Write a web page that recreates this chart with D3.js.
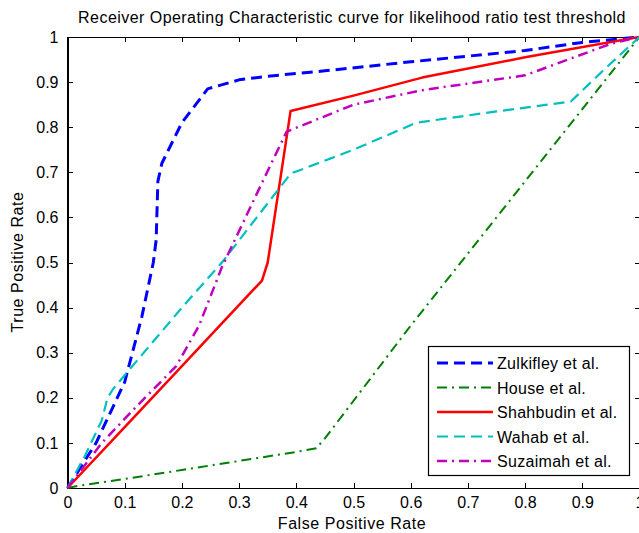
<!DOCTYPE html>
<meta charset="utf-8">
<head>
  <script src="https://cdn.jsdelivr.net/npm/d3@7/dist/d3.min.js"></script>
  <style>
    body { margin: 0; background: #fff; }
    text { font-family: "Liberation Sans", Arial, sans-serif; fill: #000; }
    .axis path, .axis line { fill: none; stroke: #000; shape-rendering: crispEdges; }
  </style>
</head>
<body>
<script type="text/javascript">

// datos
var xTicks = [0, 0.1, 0.2, 0.3, 0.4, 0.5, 0.6, 0.7, 0.8, 0.9, 1];
var yTicks = [0, 0.1, 0.2, 0.3, 0.4, 0.5, 0.6, 0.7, 0.8, 0.9, 1];

var nombres = ["Zulkifley et al.", "House et al.", "Shahbudin et al.", "Wahab et al.", "Suzaimah et al."];
var colores = ["#0000ff", "#007f00", "#ff0000", "#00bfbf", "#bf00bf"];

var zulkifley = [[0,0],[0.05,0.1],[0.1,0.235],[0.13,0.38],[0.15,0.5],[0.155,0.55],[0.158,0.68],[0.165,0.72],[0.2,0.81],[0.245,0.885],[0.3,0.905],[0.35,0.913],[0.45,0.925],[0.6,0.945],[0.8,0.97],[0.9,0.988],[1,1]];
var house = [[0,0],[0.02,0.005],[0.1,0.02],[0.2,0.04],[0.3,0.06],[0.4,0.08],[0.435,0.088],[0.45,0.11],[0.6,0.36],[0.8,0.68],[1,1]];
var shahbudin = [[0,0],[0.1,0.135],[0.2,0.27],[0.34,0.46],[0.35,0.5],[0.39,0.836],[0.5,0.87],[0.62,0.91],[0.8,0.955],[1,1]];
var wahab = [[0,0],[0.03,0.07],[0.06,0.15],[0.07,0.2],[0.08,0.22],[0.1,0.25],[0.2,0.4],[0.27,0.5],[0.39,0.697],[0.5,0.75],[0.61,0.81],[0.75,0.835],[0.88,0.857],[0.94,0.93],[1,1]];
var suzaimah = [[0,0],[0.06,0.1],[0.12,0.18],[0.19,0.27],[0.23,0.36],[0.27,0.49],[0.33,0.65],[0.383,0.79],[0.5,0.85],[0.62,0.882],[0.8,0.915],[0.95,0.985],[1,1]];

var series = [zulkifley, house, shahbudin, wahab, suzaimah];
var guiones = ["11,6", "10,5,2,5", null, "11,6", "10,5,2,5"];
var grosor = [3, 2, 2.5, 2.2, 2.5];

var W = 639, H = 533;
var margin = {top: 37, right: 0, bottom: 45, left: 67.5};

var svg = d3.select("body").append("svg")
  .attr("width", W).attr("height", H);

var xScale = d3.scaleLinear().domain([0, 1]).range([margin.left, 639.5]);
var yScale = d3.scaleLinear().domain([0, 1]).range([H - margin.bottom, margin.top]);

svg.append("clipPath").attr("id", "clip")
  .append("rect")
  .attr("x", margin.left - 2).attr("y", margin.top - 2)
  .attr("width", 639.5 - margin.left + 4).attr("height", yScale(0) - margin.top + 4);

// ejes con ticks hacia adentro
var xAxis = d3.axisBottom(xScale).tickValues(xTicks).tickSize(-5).tickPadding(9).tickFormat(d3.format("~g"));
var yAxis = d3.axisLeft(yScale).tickValues(yTicks).tickSize(-5).tickPadding(9).tickFormat(d3.format("~g"));

var gx = svg.append("g").attr("class", "axis")
  .attr("transform", "translate(0," + yScale(0) + ")").call(xAxis);
var gy = svg.append("g").attr("class", "axis")
  .attr("transform", "translate(" + margin.left + ",0)").call(yAxis);

svg.append("g").attr("class", "axis")
  .attr("transform", "translate(0," + yScale(1) + ")")
  .call(d3.axisTop(xScale).tickValues(xTicks).tickSize(-5).tickFormat(""));
svg.append("g").attr("class", "axis")
  .attr("transform", "translate(" + xScale(1) + ",0)")
  .call(d3.axisRight(yScale).tickValues(yTicks).tickSize(-5).tickFormat(""));

svg.selectAll(".axis .domain").attr("stroke-width", 1.3);
svg.selectAll(".axis text").attr("font-size", 16).attr("font-family", "Liberation Sans, Arial, sans-serif");

// curvas
var line = d3.line()
  .x(function(d){ return xScale(d[0]); })
  .y(function(d){ return yScale(d[1]); });

svg.append("g").attr("clip-path", "url(#clip)")
  .selectAll("path")
  .data(series)
  .enter()
  .append("path")
  .attr("d", line)
  .attr("fill", "none")
  .attr("stroke", function(d, i){ return colores[i]; })
  .attr("stroke-width", function(d, i){ return grosor[i]; })
  .attr("stroke-dasharray", function(d, i){ return guiones[i]; })
  .attr("stroke-linejoin", "round");

// titulo y etiquetas
svg.append("text")
  .attr("x", 352).attr("y", 23)
  .attr("text-anchor", "middle")
  .attr("font-size", 16)
  .attr("letter-spacing", 0.45)
  .text("Receiver Operating Characteristic curve for likelihood ratio test threshold");

svg.append("text")
  .attr("x", 352).attr("y", 529)
  .attr("text-anchor", "middle")
  .attr("font-size", 16)
  .attr("letter-spacing", 0.55)
  .text("False Positive Rate");

svg.append("text")
  .attr("transform", "translate(23," + 262 + ") rotate(-90)")
  .attr("text-anchor", "middle")
  .attr("font-size", 16)
  .attr("letter-spacing", 0.55)
  .text("True Positive Rate");

// leyenda
var leyenda = svg.append("g");
leyenda.append("rect")
  .attr("x", 428.5).attr("y", 346.5)
  .attr("width", 201).attr("height", 129)
  .attr("fill", "#fff").attr("stroke", "#000").attr("stroke-width", 1.2);

var filas = leyenda.selectAll("g.fila")
  .data(nombres)
  .enter()
  .append("g")
  .attr("transform", function(d, i){ return "translate(0," + (363 + i * 24.5) + ")"; });

filas.append("line")
  .attr("x1", 437).attr("x2", 493)
  .attr("stroke", function(d, i){ return colores[i]; })
  .attr("stroke-width", function(d, i){ return grosor[i]; })
  .attr("stroke-dasharray", function(d, i){ return guiones[i]; });

filas.append("text")
  .attr("x", 497).attr("y", 6)
  .attr("font-size", 16)
  .attr("letter-spacing", 0.3)
  .text(function(d){ return d; });

</script>
</body>
